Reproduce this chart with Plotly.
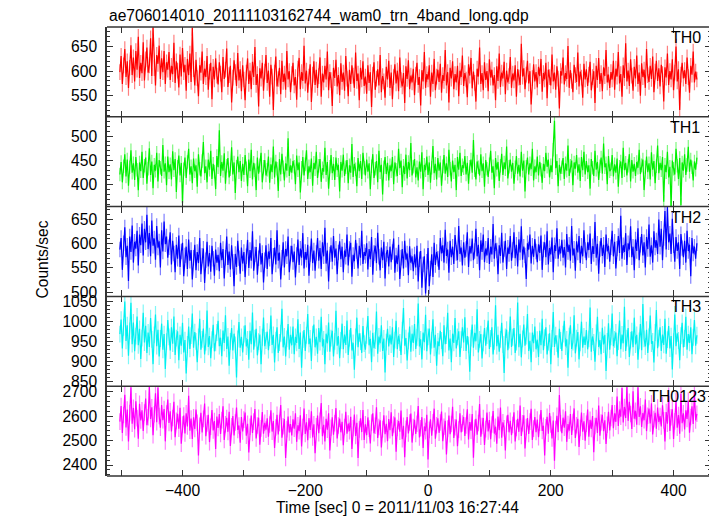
import plotly.graph_objects as go
from plotly.subplots import make_subplots

# ---------------- data ----------------
TIME_START = -502   # sec, first bin
BIN = 2             # sec per bin

th0 = [598, 631, 574, 612, 645, 588, 620, 566, 607, 653, 592, 628, 579, 641, 603, 670, 586, 617, 596, 659,
       581, 624, 648, 597, 612, 667, 590, 689, 606, 571, 633, 615, 652, 584, 626, 598, 641, 574, 618, 603,
       639, 582, 611, 594, 658, 576, 620, 601, 567, 634, 589, 647, 598, 613, 560, 625, 592, 636, 578, 688,
       604, 571, 623, 586, 549, 612, 597, 640, 574, 605, 588, 631, 562, 599, 617, 543, 609, 583, 626, 591,
       573, 618, 595, 557, 629, 584, 603, 646, 568, 592, 611, 536, 587, 622, 598, 570, 637, 581, 604, 559,
       612, 583, 541, 597, 626, 574, 601, 563, 619, 588, 649, 572, 594, 528, 606, 585, 617, 560, 599, 633,
       576, 601, 548, 613, 589, 521, 597, 630, 569, 584, 607, 553, 621, 578, 595, 562, 641, 583, 600, 557,
       594, 617, 571, 588, 542, 605, 627, 563, 598, 580, 652, 575, 601, 556, 589, 614, 537, 593, 620, 572,
       603, 566, 590, 628, 548, 595, 577, 611, 583, 640, 561, 598, 582, 529, 607, 586, 623, 569, 592, 551,
       616, 578, 597, 560, 631, 585, 549, 603, 574, 612, 591, 566, 638, 580, 595, 541, 607, 583, 620, 570,
       589, 554, 612, 576, 598, 527, 593, 618, 562, 585, 604, 571, 633, 557, 590, 579, 546, 609, 583, 621,
       566, 597, 543, 588, 614, 575, 601, 559, 628, 582, 569, 596, 535, 610, 584, 622, 563, 591, 577, 605,
       551, 593, 617, 572, 588, 530, 602, 579, 639, 566, 594, 583, 612, 548, 597, 574, 625, 561, 589, 603,
       578, 615, 556, 592, 580, 643, 571, 598, 536, 607, 585, 620, 563, 594, 577, 611, 549, 601, 588, 632,
       570, 596, 583, 547, 614, 591, 627, 565, 599, 576, 538, 605, 589, 648, 574, 596, 561, 618, 582, 600,
       559, 624, 587, 603, 571, 592, 541, 610, 580, 636, 568, 597, 585, 619, 553, 601, 577, 590, 629, 566,
       595, 581, 612, 548, 604, 587, 572, 656, 589, 606, 563, 593, 621, 575, 600, 532, 586, 614, 579, 598,
       567, 609, 590, 625, 558, 596, 583, 617, 545, 603, 588, 571, 634, 579, 597, 562, 610, 585, 524, 600,
       591, 628, 573, 596, 584, 651, 566, 602, 580, 557, 613, 592, 578, 638, 569, 599, 587, 546, 615, 583,
       604, 570, 593, 619, 561, 588, 600, 535, 611, 582, 627, 574, 596, 559, 608, 590, 643, 577, 593, 566,
       598, 583, 621, 562, 605, 589, 639, 575, 594, 548, 612, 586, 657, 579, 601, 570, 624, 591, 560, 609,
       585, 632, 574, 597, 550, 616, 588, 603, 566, 645, 592, 578, 611, 584, 630, 557, 599, 621, 580, 606,
       569, 613, 594, 538, 608, 587, 636, 572, 600, 583, 624, 561, 597, 650, 579, 604, 521, 593, 617, 585,
       602, 574, 628, 588, 556, 611, 593, 640, 577, 599, 583]

th1 = [421, 447, 405, 438, 463, 417, 452, 398, 436, 471, 425, 444, 410, 457, 431, 389, 446, 428, 468, 414,
       439, 456, 402, 433, 475, 420, 448, 393, 441, 429, 466, 407, 451, 435, 418, 482, 427, 444, 399, 458,
       426, 442, 411, 469, 430, 453, 385, 437, 460, 419, 445, 362, 432, 456, 414, 447, 474, 421, 438, 403,
       454, 428, 440, 396, 463, 433, 417, 449, 488, 424, 438, 405, 452, 431, 470, 412, 443, 427, 391, 459,
       436, 512, 418, 447, 429, 465, 402, 439, 455, 415, 432, 477, 421, 446, 383, 437, 458, 426, 449, 408,
       443, 420, 461, 434, 397, 452, 428, 472, 411, 445, 430, 389, 456, 423, 440, 466, 405, 437, 451, 419,
       431, 458, 404, 442, 426, 479, 415, 448, 433, 387, 453, 421, 464, 436, 409, 444, 429, 496, 418, 440,
       425, 449, 437, 401, 460, 430, 446, 384, 435, 457, 419, 442, 471, 412, 438, 426, 454, 398, 445, 432,
       468, 414, 439, 453, 406, 434, 427, 476, 420, 447, 392, 437, 461, 424, 443, 410, 456, 430, 441, 386,
       447, 429, 462, 418, 436, 451, 403, 440, 425, 484, 416, 443, 432, 397, 455, 428, 449, 412, 466, 435,
       419, 452, 427, 444, 391, 438, 463, 414, 433, 449, 405, 470, 426, 441, 380, 436, 457, 422, 445, 409,
       440, 428, 457, 401, 446, 431, 418, 474, 434, 450, 395, 439, 422, 462, 413, 447, 430, 486, 419, 437,
       453, 415, 436, 409, 448, 427, 467, 391, 441, 430, 458, 420, 446, 404, 435, 480, 424, 443, 411, 455,
       429, 446, 398, 438, 461, 423, 444, 416, 472, 433, 407, 450, 426, 441, 389, 457, 431, 466, 418, 440,
       434, 459, 421, 445, 402, 437, 452, 425, 492, 430, 411, 448, 436, 419, 463, 428, 444, 396, 451, 433,
       416, 442, 470, 425, 438, 393, 455, 431, 447, 408, 439, 464, 420, 446, 432, 479, 413, 437, 452, 427,
       445, 402, 436, 459, 423, 441, 417, 468, 429, 450, 386, 437, 456, 421, 444, 432, 474, 409, 438, 426,
       458, 419, 447, 431, 404, 443, 428, 466, 437, 452, 415, 440, 426, 472, 532, 434, 449, 397, 441, 423,
       436, 455, 412, 444, 429, 481, 418, 439, 450, 399, 446, 433, 461, 425, 442, 408, 457, 430, 468, 421,
       449, 426, 440, 392, 453, 435, 418, 470, 431, 447, 410, 438, 456, 423, 485, 436, 444, 401, 459, 428,
       432, 461, 417, 442, 425, 454, 396, 437, 448, 414, 476, 430, 445, 419, 439, 463, 407, 451, 427, 443,
       418, 447, 435, 472, 422, 440, 452, 389, 436, 458, 426, 444, 411, 467, 431, 449, 403, 438, 481, 424,
       445, 430, 457, 365, 441, 426, 468, 415, 437, 352, 450, 433, 421, 474, 439, 412, 455, 358, 446, 429,
       463, 420, 441, 478, 427, 452, 436, 409, 448, 431, 456]

th2 = [588, 612, 546, 601, 634, 572, 596, 523, 615, 583, 638, 561, 604, 590, 627, 555, 619, 597, 642, 576,
       631, 603, 660, 589, 622, 574, 648, 596, 611, 567, 637, 592, 605, 551, 628, 584, 646, 599, 615, 571,
       593, 624, 557, 606, 580, 541, 598, 569, 617, 552, 584, 602, 533, 576, 594, 548, 609, 565, 587, 526,
       571, 598, 545, 583, 560, 612, 537, 575, 590, 519, 566, 604, 553, 581, 542, 596, 569, 534, 588, 561,
       577, 543, 602, 566, 589, 528, 571, 615, 556, 584, 547, 597, 563, 512, 579, 552, 606, 570, 538, 592,
       559, 583, 531, 574, 608, 550, 587, 565, 626, 544, 578, 593, 536, 570, 601, 557, 581, 520, 566, 597,
       548, 584, 569, 612, 537, 575, 592, 557, 628, 565, 582, 526, 571, 603, 551, 589, 574, 615, 541, 580,
       596, 562, 584, 530, 577, 609, 556, 590, 571, 622, 549, 583, 567, 598, 534, 579, 611, 560, 586, 544,
       581, 612, 565, 591, 548, 603, 574, 633, 559, 586, 522, 578, 597, 563, 616, 571, 590, 537, 582, 605,
       568, 594, 541, 586, 573, 619, 555, 589, 602, 532, 577, 564, 608, 585, 549, 596, 571, 627, 558, 583,
       575, 601, 547, 589, 568, 614, 536, 581, 596, 560, 623, 573, 545, 592, 566, 604, 528, 579, 587, 553,
       594, 562, 583, 611, 540, 576, 558, 598, 527, 571, 589, 549, 606, 567, 580, 535, 595, 561, 574, 543,
       578, 551, 596, 522, 568, 585, 509, 557, 574, 497, 563, 591, 512, 549, 578, 531, 602, 556, 583, 569,
       546, 612, 580, 597, 561, 629, 575, 588, 540, 606, 572, 594, 558, 618, 581, 566, 637, 579, 592, 555,
       603, 571, 589, 624, 552, 595, 580, 611, 566, 585, 631, 574, 598, 545, 607, 583, 619, 562, 590, 576,
       612, 558, 594, 578, 641, 569, 601, 586, 537, 597, 575, 623, 561, 589, 606, 548, 592, 579, 616, 565,
       587, 624, 570, 598, 553, 609, 582, 636, 567, 594, 576, 527, 601, 588, 619, 559, 596, 573, 610, 584,
       562, 599, 581, 617, 546, 588, 603, 572, 626, 557, 591, 578, 613, 541, 597, 585, 632, 569, 594, 580,
       608, 571, 593, 551, 620, 583, 598, 565, 637, 576, 590, 544, 605, 582, 616, 560, 596, 574, 628, 587,
       566, 603, 587, 621, 558, 595, 579, 645, 571, 600, 538, 589, 612, 575, 598, 552, 619, 584, 596, 563,
       593, 627, 574, 604, 549, 590, 616, 581, 658, 569, 597, 583, 622, 556, 601, 588, 636, 572, 594, 545,
       609, 585, 632, 566, 598, 620, 576, 603, 551, 614, 589, 640, 573, 597, 561, 626, 592, 607, 579, 650,
       594, 631, 566, 612, 668, 588, 676, 603, 621, 579, 652, 597, 563, 614, 585, 603, 548, 620, 591, 572,
       606, 561, 627, 585, 598, 533, 612, 580, 594, 569, 601]

th3 = [968, 1004, 932, 985, 1049, 951, 990, 914, 976, 1046, 943, 997, 925, 963, 1012, 940, 981, 906, 958, 1021,
       947, 989, 921, 972, 936, 1008, 955, 893, 966, 1017, 938, 979, 912, 957, 994, 929, 968, 881, 949, 1003,
       961, 927, 985, 944, 1012, 916, 958, 975, 903, 966, 939, 996, 922, 953, 870, 942, 987, 931, 964, 1019,
       934, 973, 950, 898, 961, 1006, 929, 955, 982, 917, 948, 1027, 936, 963, 908, 954, 991, 925, 946, 972,
       1001, 938, 959, 913, 977, 946, 1015, 931, 962, 889, 950, 983, 927, 969, 941, 860, 956, 998, 934, 961,
       922, 968, 990, 937, 955, 904, 976, 943, 1022, 929, 958, 981, 915, 949, 967, 893, 960, 1009, 938, 952,
       974, 928, 959, 1014, 941, 966, 897, 953, 985, 921, 947, 970, 1031, 935, 962, 912, 956, 993, 929, 966,
       940, 987, 918, 961, 946, 1005, 931, 972, 884, 954, 978, 926, 965, 1018, 943, 957, 901, 968, 992, 935,
       961, 919, 983, 948, 1011, 937, 955, 893, 969, 945, 997, 924, 958, 976, 912, 950, 1026, 939, 963, 908,
       952, 994, 930, 967, 941, 1002, 916, 958, 983, 927, 946, 879, 961, 1009, 935, 970, 949, 921, 988, 944,
       929, 965, 1013, 940, 956, 898, 971, 933, 952, 1024, 919, 962, 945, 990, 926, 957, 872, 948, 981, 937,
       967, 942, 985, 911, 953, 1001, 930, 964, 947, 916, 978, 1033, 939, 958, 902, 951, 987, 924, 969, 946,
       993, 931, 960, 1044, 937, 955, 905, 972, 948, 1016, 925, 961, 982, 917, 953, 1005, 934, 966, 889, 950,
       938, 976, 952, 913, 990, 943, 964, 1021, 927, 957, 898, 969, 946, 1008, 932, 961, 975, 911, 954, 985,
       947, 1010, 926, 963, 941, 874, 958, 992, 934, 971, 950, 1030, 922, 955, 968, 907, 946, 983, 939, 964,
       1002, 931, 957, 985, 917, 950, 1040, 938, 966, 924, 955, 996, 942, 871, 961, 979, 928, 953, 1012, 936,
       960, 983, 921, 948, 1047, 935, 969, 910, 956, 992, 939, 963, 1018, 926, 951, 898, 972, 945, 987, 930,
       954, 911, 976, 940, 1006, 928, 959, 985, 917, 948, 970, 893, 957, 1023, 936, 965, 944, 909, 981, 952,
       926, 968, 1001, 937, 955, 884, 963, 990, 931, 948, 1015, 920, 958, 973, 905, 946, 999, 934, 962, 941,
       978, 930, 956, 1034, 924, 962, 947, 899, 971, 1011, 936, 953, 918, 984, 942, 966, 876, 950, 995, 929,
       961, 1019, 938, 955, 972, 913, 949, 1002, 930, 967, 945, 1036, 926, 958, 983, 911, 953, 975, 935, 1009,
       942, 966, 904, 951, 993, 928, 1043, 956, 937, 979, 921, 961, 1014, 944, 950, 897, 972, 1028, 933, 958,
       985, 926, 967, 941, 1006, 919, 954, 988, 932, 963, 880, 949, 1017, 938, 970, 952, 903, 964, 996, 935,
       957, 1011, 929, 968, 946, 985, 918, 960, 1003, 939, 965]

th0123 = [2578, 2642, 2531, 2605, 2688, 2554, 2627, 2496, 2613, 2719, 2569, 2634, 2547, 2661, 2592, 2508, 2651, 2583, 2624, 2540,
          2615, 2672, 2563, 2596, 2721, 2589, 2637, 2522, 2608, 2694, 2575, 2718, 2601, 2553, 2646, 2584, 2629, 2497, 2611, 2668,
          2572, 2620, 2538, 2593, 2659, 2514, 2581, 2610, 2549, 2635, 2487, 2566, 2603, 2529, 2612, 2558, 2684, 2541, 2590, 2507,
          2596, 2548, 2627, 2573, 2439, 2561, 2614, 2533, 2589, 2652, 2518, 2570, 2606, 2494, 2557, 2625, 2542, 2580, 2466, 2599,
          2552, 2609, 2527, 2584, 2641, 2503, 2567, 2593, 2536, 2618, 2478, 2559, 2601, 2521, 2574, 2636, 2544, 2562, 2491, 2597,
          2538, 2586, 2615, 2520, 2569, 2451, 2557, 2603, 2531, 2578, 2629, 2509, 2562, 2594, 2483, 2550, 2617, 2528, 2573, 2545,
          2591, 2516, 2566, 2624, 2537, 2580, 2470, 2554, 2606, 2525, 2572, 2646, 2512, 2559, 2588, 2429, 2547, 2599, 2533, 2568,
          2521, 2587, 2549, 2612, 2495, 2563, 2539, 2604, 2476, 2556, 2631, 2527, 2575, 2502, 2592, 2544, 2620, 2513, 2567, 2448,
          2559, 2603, 2530, 2581, 2654, 2518, 2565, 2497, 2589, 2545, 2612, 2460, 2553, 2596, 2524, 2571, 2633, 2509, 2562, 2590,
          2534, 2577, 2481, 2556, 2618, 2528, 2570, 2539, 2598, 2466, 2551, 2607, 2519, 2573, 2429, 2546, 2591, 2535, 2625, 2503,
          2567, 2522, 2595, 2549, 2488, 2574, 2612, 2530, 2561, 2637, 2511, 2556, 2583, 2472, 2547, 2604, 2526, 2569, 2498, 2588,
          2543, 2616, 2518, 2566, 2595, 2454, 2552, 2580, 2537, 2623, 2506, 2561, 2432, 2548, 2597, 2529, 2574, 2611, 2492, 2556,
          2585, 2527, 2569, 2642, 2513, 2551, 2596, 2470, 2558, 2539, 2606, 2423, 2544, 2587, 2520, 2575, 2631, 2508, 2563, 2591,
          2532, 2574, 2619, 2498, 2557, 2581, 2443, 2549, 2603, 2526, 2568, 2639, 2511, 2555, 2586, 2477, 2545, 2612, 2534, 2570,
          2597, 2519, 2562, 2628, 2505, 2576, 2541, 2609, 2430, 2553, 2589, 2524, 2572, 2650, 2516, 2560, 2593, 2482, 2547, 2615,
          2538, 2584, 2506, 2566, 2621, 2529, 2557, 2487, 2599, 2543, 2636, 2512, 2575, 2551, 2460, 2569, 2606, 2534, 2581, 2522,
          2564, 2616, 2497, 2552, 2589, 2536, 2644, 2519, 2571, 2604, 2468, 2556, 2592, 2527, 2578, 2630, 2503, 2549, 2597, 2535,
          2586, 2514, 2573, 2625, 2540, 2561, 2439, 2555, 2598, 2528, 2613, 2566, 2509, 2582, 2418, 2547, 2602, 2535, 2687, 2571,
          2530, 2594, 2553, 2620, 2495, 2568, 2541, 2609, 2523, 2576, 2632, 2511, 2563, 2589, 2474, 2552, 2615, 2537, 2579, 2500,
          2569, 2627, 2516, 2585, 2548, 2601, 2452, 2560, 2593, 2531, 2644, 2520, 2574, 2606, 2539, 2583, 2486, 2565, 2618, 2542,
          2593, 2646, 2551, 2612, 2577, 2681, 2560, 2627, 2598, 2716, 2574, 2638, 2593, 2722, 2581, 2659, 2609, 2548, 2702, 2590,
          2622, 2565, 2719, 2597, 2641, 2556, 2613, 2584, 2668, 2539, 2602, 2631, 2570, 2653, 2525, 2588, 2614, 2549, 2636, 2576,
          2601, 2558, 2645, 2583, 2497, 2617, 2569, 2684, 2540, 2596, 2628, 2507, 2579, 2663, 2553, 2605, 2528, 2692, 2571, 2612,
          2546, 2624, 2589, 2663, 2532, 2597, 2641, 2568, 2699, 2583, 2610]

# 1-sigma errors (counts/sec) per band
err_th0 = 16
err_th1 = 14
err_th2 = 16
err_th3 = 21
err_th0123 = 34

band_names = ["TH0", "TH1", "TH2", "TH3", "TH0123"]
band_values = [th0, th1, th2, th3, th0123]
band_errors = [err_th0, err_th1, err_th2, err_th3, err_th0123]

y_ranges = [[507, 690], [355, 540], [491, 677], [838, 1062], [2355, 2723]]
y_dticks = [50, 50, 50, 50, 100]
y_minor = [10, 10, 10, 10, 20]

x_tick_vals = [-500, -400, -300, -200, -100, 0, 100, 200, 300, 400]
x_tick_text = ["", "\u2212400", "", "\u2212200", "", "0", "", "200", "", "400"]

title_text = "ae706014010_20111103162744_wam0_trn_4band_long.qdp"
x_title = "Time [sec] 0 = 2011/11/03 16:27:44"
y_title = "Counts/sec"

# ---------------- style ----------------
line_colors = ["#ff0000", "#00f000", "#0000ff", "#00f0f0", "#ff00ff"]
err_colors = ["rgba(255,0,0,0.5)", "rgba(0,240,0,0.5)", "rgba(0,0,255,0.5)",
              "rgba(0,240,240,0.5)", "rgba(255,0,255,0.5)"]
FONT = "Liberation Sans, Arial, Helvetica, sans-serif"
AXC = "#333333"
FS = 15.6

# the page body has an 8px margin: the figure is drawn 8px in from the window edge
PAGE_OFF = 8
PLOT_L, PLOT_R, PLOT_T, PLOT_B = 107, 711, 27, 476   # plot area in window pixels
W, H = 717 - PAGE_OFF, 516 - PAGE_OFF
PLOT_W = PLOT_R - PLOT_L

fig = make_subplots(rows=5, cols=1, shared_xaxes=True, vertical_spacing=0)

for i, (name, vals, err) in enumerate(zip(band_names, band_values, band_errors)):
    t = [TIME_START + BIN * k for k in range(len(vals))]
    fig.add_trace(go.Scatter(
        x=t, y=vals, mode="lines", name=name,
        line=dict(color=line_colors[i], width=1.2),
        error_y=dict(type="constant", value=err, color=err_colors[i], thickness=1.2, width=0),
        showlegend=False, hoverinfo="skip"), row=i + 1, col=1)

    fig.update_yaxes(range=y_ranges[i], dtick=y_dticks[i], tick0=0,
                     ticks="inside", ticklen=6, tickwidth=1, tickcolor=AXC,
                     minor=dict(dtick=y_minor[i], ticks="inside", ticklen=3, tickcolor=AXC, tickwidth=1),
                     showline=True, linecolor=AXC, linewidth=1.5, mirror="ticks",
                     showgrid=False, zeroline=False, automargin=False, ticklabelstandoff=5,
                     tickfont=dict(family=FONT, size=FS, color="#000"),
                     row=i + 1, col=1)
    fig.update_xaxes(range=[-523, 461], tickvals=x_tick_vals, ticktext=x_tick_text,
                     ticks="inside", ticklen=6, tickwidth=1, tickcolor=AXC,
                     showline=True, linecolor="rgba(0,0,0,0)", linewidth=1, mirror="ticks",
                     showgrid=False, zeroline=False, automargin=False,
                     tickfont=dict(family=FONT, size=FS, color="#000"),
                     row=i + 1, col=1)

# horizontal panel borders as single thin lines
for k in range(6):
    fig.add_shape(type="line", xref="paper", yref="paper", x0=0, x1=1, y0=k / 5, y1=k / 5,
                  line=dict(color=AXC, width=1.5), layer="above")

label_right_px = [703, 702, 703, 703, 708]
for i, name in enumerate(band_names):
    axn = "" if i == 0 else str(i + 1)
    fig.add_annotation(text=name, xref=f"x{axn} domain", yref=f"y{axn} domain",
                       x=(label_right_px[i] - PLOT_L) / PLOT_W, y=1.0,
                       xanchor="right", yanchor="top", showarrow=False,
                       font=dict(family=FONT, size=16, color="#000"))

fig.add_annotation(text=title_text, xref="paper", yref="paper", x=0, y=1,
                   xanchor="left", yanchor="bottom", yshift=0, showarrow=False,
                   font=dict(family=FONT, size=FS, color="#000"))
fig.add_annotation(text=x_title, xref="paper", yref="paper",
                   x=(397.5 - PLOT_L) / PLOT_W, y=0, xanchor="center", yanchor="middle",
                   yshift=-31, showarrow=False,
                   font=dict(family=FONT, size=FS, color="#000"))
fig.add_annotation(text=y_title, xref="paper", yref="paper",
                   x=0, y=1 - (260 - PLOT_T) / (PLOT_B - PLOT_T), xanchor="center", yanchor="middle",
                   xshift=-(PLOT_L - 41.5), textangle=-90, showarrow=False,
                   font=dict(family=FONT, size=FS, color="#000"))

fig.update_layout(width=W, height=H,
                  margin=dict(l=PLOT_L - PAGE_OFF, r=717 - PLOT_R, t=PLOT_T - PAGE_OFF,
                              b=516 - PLOT_B, autoexpand=False),
                  paper_bgcolor="white", plot_bgcolor="white",
                  font=dict(family=FONT, color="#000"))

fig.write_html("out.html")
